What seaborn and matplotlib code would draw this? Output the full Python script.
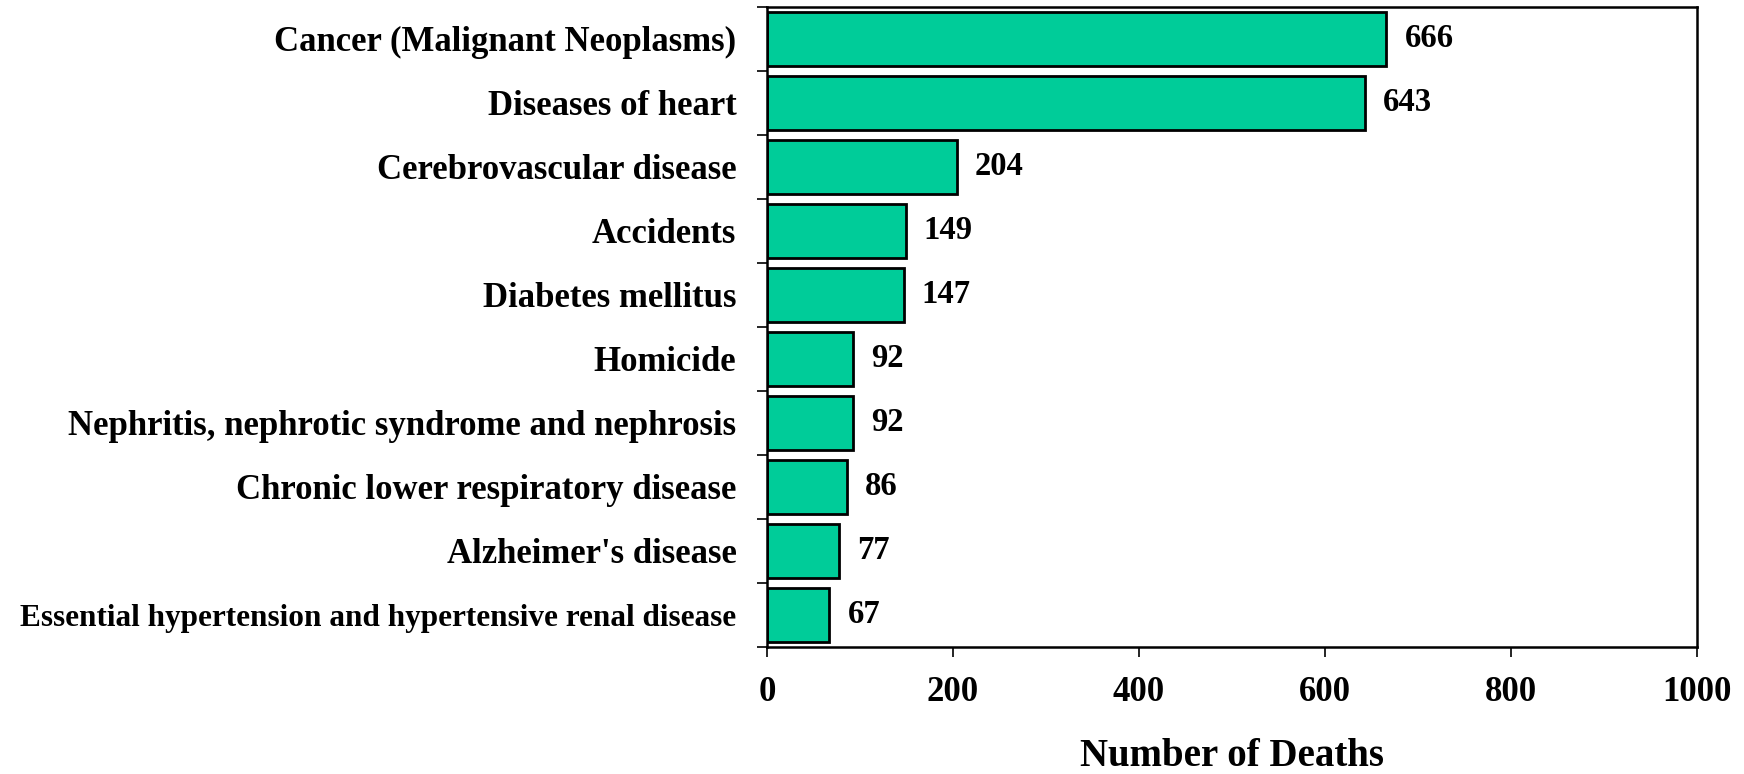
import seaborn as sns
import matplotlib.pyplot as plt
from matplotlib.ticker import FixedLocator
import pandas as pd

# Leading causes of death, counts
causes = [
    "Cancer (Malignant Neoplasms)",
    "Diseases of heart",
    "Cerebrovascular disease",
    "Accidents",
    "Diabetes mellitus",
    "Homicide",
    "Nephritis, nephrotic syndrome and nephrosis",
    "Chronic lower respiratory disease",
    "Alzheimer's disease",
    "Essential hypertension and hypertensive renal disease",
]
deaths = [666, 643, 204, 149, 147, 92, 92, 86, 77, 67]
x_ticks = [0, 200, 400, 600, 800, 1000]

df = pd.DataFrame({"cause": causes, "deaths": deaths})

sns.set_style("white")
plt.rcParams['font.family'] = ['Liberation Serif', 'DejaVu Serif']
plt.rcParams['font.weight'] = 'bold'
plt.rcParams['text.color'] = 'black'
plt.rcParams['xtick.color'] = 'black'
plt.rcParams['ytick.color'] = 'black'
plt.rcParams['axes.labelcolor'] = 'black'

fig = plt.figure(figsize=(17.44, 7.74), dpi=100)
ax = fig.add_axes([0.4398, 0.1641, 0.5333, 0.8269])

sns.barplot(data=df, x="deaths", y="cause", orient="h", color="#00CC99",
            saturation=1, width=0.83, edgecolor="black", linewidth=2, ax=ax)

for c in ax.containers:
    ax.bar_label(c, padding=13, fontsize=23.5, fontweight='bold', color='black')

ax.set_xlim(0, 1000)
ax.set_ylim(len(causes) - 0.5, -0.5)
ax.set_xticks(x_ticks)
ax.set_xticklabels([str(t) for t in x_ticks], fontsize=25, fontweight='bold')
ax.set_yticklabels(causes, fontsize=25, fontweight='bold')
ax.set_ylabel("")
ax.set_xlabel("Number of Deaths", fontsize=28, fontweight='bold', labelpad=21)

# category boundary ticks on the left axis
ax.yaxis.set_minor_locator(FixedLocator([i - 0.5 for i in range(len(causes) + 1)]))
ax.tick_params(axis='y', which='major', length=0, pad=22)
ax.tick_params(axis='y', which='minor', length=7, width=1.2, direction='out', left=True)
ax.tick_params(axis='x', which='major', length=7, width=1.2, direction='out', bottom=True, pad=14)

for s in ax.spines.values():
    s.set_color("black")
    s.set_linewidth(1.8)

# the longest label is set condensed in the original
lab = ax.get_yticklabels()[-1]
lab.set_fontsize(22.5)

plt.savefig("out.png", dpi=100)
